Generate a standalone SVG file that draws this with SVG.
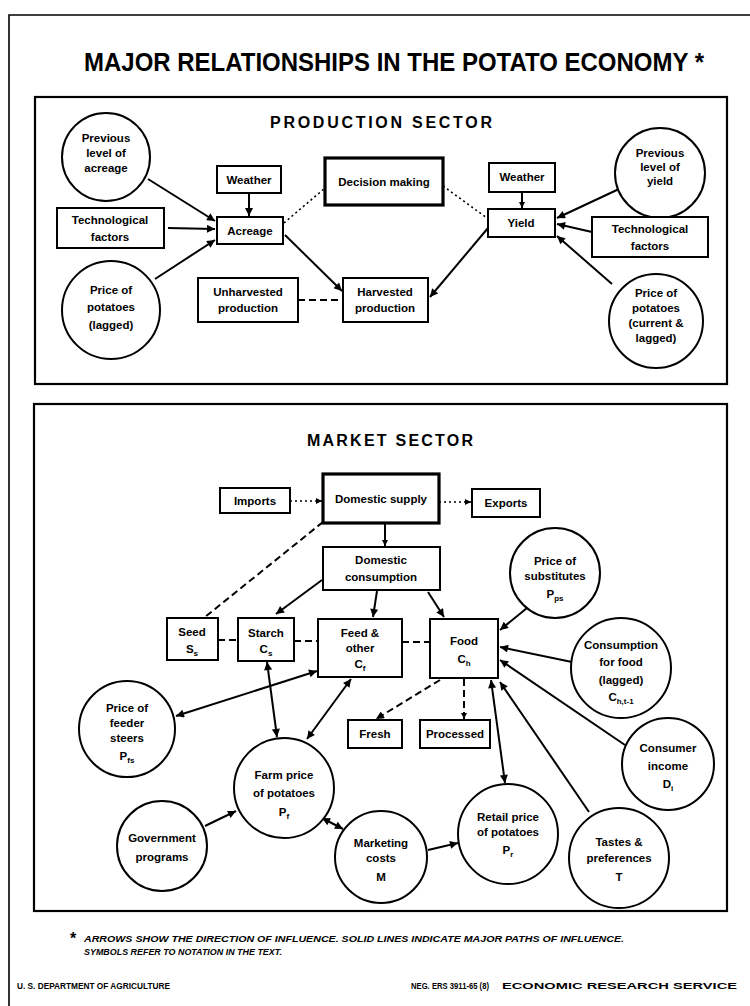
<svg xmlns="http://www.w3.org/2000/svg" width="750" height="1006" viewBox="0 0 750 1006">
<defs>
<style>
.n rect,.n circle{fill:#fff;stroke:#000;stroke-width:2}
.n rect.thick{stroke-width:3.2}
text{font-family:"Liberation Sans",Arial,sans-serif;font-weight:bold;fill:#000}
.n text{font-size:11.5px;text-anchor:middle}
.n tspan.s{font-size:8px}
.c line{stroke:#000;stroke-width:2;fill:none}
.c line.dash{stroke-dasharray:7 4}
.c line.dot{stroke-dasharray:2 3;stroke-width:1.6}
.frame{stroke:#000;stroke-width:1.6;fill:none}
.box{fill:none;stroke:#000;stroke-width:2.2}
.sec{font-size:16px}
.foot{font-size:8.5px;font-style:italic}
.ftr{font-size:9.5px}
</style>
<marker id="a" viewBox="0 0 10 10" refX="10" refY="5" markerWidth="11" markerHeight="8" markerUnits="userSpaceOnUse" orient="auto-start-reverse"><path d="M0,0 L10,5 L0,10 z" fill="#000"/></marker>
<marker id="sm" viewBox="0 0 10 10" refX="10" refY="5" markerWidth="8" markerHeight="6" markerUnits="userSpaceOnUse" orient="auto-start-reverse"><path d="M0,0 L10,5 L0,10 z" fill="#000"/></marker>
</defs>
<rect width="750" height="1006" fill="#fff"/>
<path class="frame" d="M9,1006 V15 H750"/>
<text x="84" y="71" font-size="25" textLength="620" lengthAdjust="spacingAndGlyphs" font-family="Liberation Sans Narrow,DejaVu Sans Condensed,sans-serif">MAJOR RELATIONSHIPS IN THE POTATO ECONOMY *</text>

<rect class="box" x="35" y="97" width="692" height="287"/>
<text class="sec" x="270" y="128" textLength="222" lengthAdjust="spacing">PRODUCTION SECTOR</text>
<rect class="box" x="34" y="404" width="693" height="507"/>
<text class="sec" x="307" y="446" textLength="166" lengthAdjust="spacing">MARKET SECTOR</text>

<g class="c">
<line x1="148" y1="179" x2="215" y2="221" marker-end="url(#a)"/>
<line x1="168" y1="228" x2="215" y2="229" marker-end="url(#a)"/>
<line x1="155" y1="279" x2="215" y2="240" marker-end="url(#a)"/>
<line x1="249" y1="193" x2="249" y2="216" marker-end="url(#a)"/>
<line x1="285" y1="235" x2="342" y2="291" marker-end="url(#a)"/>
<line class="dash" x1="298" y1="300" x2="343" y2="300"/>
<line class="dot" x1="284" y1="223" x2="325" y2="188"/>
<line class="dot" x1="443" y1="186" x2="487" y2="218"/>
<line x1="488" y1="228" x2="430" y2="297" marker-end="url(#a)"/>
<line x1="522" y1="192" x2="522" y2="208" marker-end="url(#sm)"/>
<line x1="619" y1="189" x2="557" y2="218" marker-end="url(#a)"/>
<line x1="592" y1="232" x2="557" y2="224" marker-end="url(#a)"/>
<line x1="612" y1="284" x2="557" y2="236" marker-end="url(#a)"/>

<line class="dot" x1="290" y1="501" x2="322" y2="501" marker-end="url(#sm)"/>
<line class="dot" x1="439" y1="502" x2="471" y2="502" marker-end="url(#sm)"/>
<line x1="385" y1="523" x2="385" y2="546" marker-end="url(#sm)"/>
<line class="dash" x1="323" y1="522" x2="205" y2="617"/>
<line x1="322" y1="580" x2="276" y2="614" marker-end="url(#a)"/>
<line x1="377" y1="591" x2="373" y2="617" marker-end="url(#a)"/>
<line x1="428" y1="592" x2="444" y2="617" marker-end="url(#a)"/>
<line class="dash" x1="218" y1="640" x2="238" y2="640"/>
<line class="dash" x1="294" y1="641" x2="318" y2="641"/>
<line class="dash" x1="402" y1="642" x2="430" y2="642" stroke-width="3"/>
<line x1="527" y1="608" x2="500" y2="630" marker-end="url(#a)"/>
<line x1="572" y1="662" x2="500" y2="647" marker-end="url(#a)"/>
<line x1="625" y1="745" x2="500" y2="660" marker-end="url(#a)"/>
<line x1="589" y1="812" x2="500" y2="682" marker-end="url(#a)"/>
<line x1="491" y1="680" x2="505" y2="783" marker-start="url(#a)" marker-end="url(#a)"/>
<line class="dash" x1="440" y1="680" x2="376" y2="719" marker-end="url(#a)"/>
<line class="dash" x1="464" y1="679" x2="464" y2="719" marker-end="url(#sm)"/>
<line x1="176" y1="716" x2="317" y2="671" marker-start="url(#a)" marker-end="url(#a)"/>
<line x1="267" y1="662" x2="277" y2="737" marker-start="url(#a)" marker-end="url(#a)"/>
<line x1="351" y1="679" x2="307" y2="739" marker-start="url(#a)" marker-end="url(#a)"/>
<line x1="205" y1="826" x2="236" y2="811" marker-end="url(#a)"/>
<line x1="322" y1="818" x2="343" y2="829" marker-start="url(#a)" marker-end="url(#a)"/>
<line x1="428" y1="850" x2="458" y2="843" marker-end="url(#a)"/>
</g>

<g class="n" id="prev-acreage"><circle cx="106" cy="157" r="44"/><text x="106" y="142">Previous</text><text x="106" y="157">level of</text><text x="106" y="172">acreage</text></g>
<g class="n" id="tech-1"><rect x="57" y="208" width="107" height="40"/><text x="110" y="224">Technological</text><text x="110" y="241">factors</text></g>
<g class="n" id="price-lagged"><circle cx="111" cy="310" r="49"/><text x="111" y="294">Price of</text><text x="111" y="311">potatoes</text><text x="111" y="329">(lagged)</text></g>
<g class="n" id="weather-1"><rect x="217" y="166" width="64" height="27"/><text x="249" y="184">Weather</text></g>
<g class="n" id="acreage"><rect x="217" y="217" width="66" height="27"/><text x="250" y="235">Acreage</text></g>
<g class="n" id="decision"><rect class="thick" x="325" y="158" width="118" height="47"/><text x="384" y="186">Decision making</text></g>
<g class="n" id="unharvested"><rect x="198" y="278" width="100" height="44"/><text x="248" y="296">Unharvested</text><text x="248" y="312">production</text></g>
<g class="n" id="harvested"><rect x="343" y="278" width="85" height="44"/><text x="385" y="296">Harvested</text><text x="385" y="312">production</text></g>
<g class="n" id="weather-2"><rect x="489" y="163" width="66" height="29"/><text x="522" y="181">Weather</text></g>
<g class="n" id="yield"><rect x="488" y="209" width="67" height="28"/><text x="521" y="227">Yield</text></g>
<g class="n" id="prev-yield"><circle cx="660" cy="173" r="45"/><text x="660" y="157">Previous</text><text x="660" y="171">level of</text><text x="660" y="185">yield</text></g>
<g class="n" id="tech-2"><rect x="592" y="217" width="116" height="40"/><text x="650" y="233">Technological</text><text x="650" y="250">factors</text></g>
<g class="n" id="price-current"><circle cx="656" cy="321" r="47"/><text x="656" y="297">Price of</text><text x="656" y="312">potatoes</text><text x="656" y="327">(current &amp;</text><text x="656" y="342">lagged)</text></g>

<g class="n" id="imports"><rect x="220" y="488" width="70" height="25"/><text x="255" y="505">Imports</text></g>
<g class="n" id="dom-supply"><rect class="thick" x="323" y="474" width="116" height="49"/><text x="381" y="503">Domestic supply</text></g>
<g class="n" id="exports"><rect x="472" y="489" width="68" height="28"/><text x="506" y="507">Exports</text></g>
<g class="n" id="dom-consumption"><rect x="323" y="547" width="117" height="43"/><text x="381" y="564">Domestic</text><text x="381" y="581">consumption</text></g>
<g class="n" id="substitutes"><circle cx="555" cy="573" r="45"/><text x="555" y="565">Price of</text><text x="555" y="580">substitutes</text><text x="555" y="598">P<tspan class="s" dy="3">ps</tspan></text></g>
<g class="n" id="seed"><rect x="167" y="618" width="51" height="42"/><text x="192" y="636">Seed</text><text x="192" y="653">S<tspan class="s" dy="3">s</tspan></text></g>
<g class="n" id="starch"><rect x="238" y="618" width="56" height="43"/><text x="266" y="637">Starch</text><text x="266" y="653">C<tspan class="s" dy="3">s</tspan></text></g>
<g class="n" id="feed"><rect x="318" y="619" width="84" height="58"/><text x="360" y="637">Feed &amp;</text><text x="360" y="652">other</text><text x="360" y="668">C<tspan class="s" dy="3">f</tspan></text></g>
<g class="n" id="food"><rect x="430" y="619" width="68" height="59"/><text x="464" y="645">Food</text><text x="464" y="663">C<tspan class="s" dy="3">h</tspan></text></g>
<g class="n" id="cons-lagged"><circle cx="621" cy="668" r="50"/><text x="621" y="649">Consumption</text><text x="621" y="666">for food</text><text x="621" y="684">(lagged)</text><text x="621" y="701">C<tspan class="s" dy="3">h,t-1</tspan></text></g>
<g class="n" id="feeder"><circle cx="127" cy="729" r="48"/><text x="127" y="712">Price of</text><text x="127" y="727">feeder</text><text x="127" y="742">steers</text><text x="127" y="760">P<tspan class="s" dy="3">fs</tspan></text></g>
<g class="n" id="fresh"><rect x="348" y="720" width="54" height="28"/><text x="375" y="738">Fresh</text></g>
<g class="n" id="processed"><rect x="420" y="720" width="70" height="28"/><text x="455" y="738">Processed</text></g>
<g class="n" id="income"><circle cx="668" cy="764" r="46"/><text x="668" y="752">Consumer</text><text x="668" y="770">income</text><text x="668" y="788">D<tspan class="s" dy="3">i</tspan></text></g>
<g class="n" id="farm-price"><circle cx="284" cy="788" r="50"/><text x="284" y="779">Farm price</text><text x="284" y="797">of potatoes</text><text x="284" y="816">P<tspan class="s" dy="3">f</tspan></text></g>
<g class="n" id="government"><circle cx="162" cy="846" r="45"/><text x="162" y="842">Government</text><text x="162" y="861">programs</text></g>
<g class="n" id="marketing"><circle cx="381" cy="857" r="46"/><text x="381" y="847">Marketing</text><text x="381" y="862">costs</text><text x="381" y="881">M</text></g>
<g class="n" id="retail"><circle cx="508" cy="834" r="50"/><text x="508" y="821">Retail price</text><text x="508" y="836">of potatoes</text><text x="508" y="854">P<tspan class="s" dy="3">r</tspan></text></g>
<g class="n" id="tastes"><circle cx="619" cy="858" r="50"/><text x="619" y="846">Tastes &amp;</text><text x="619" y="862">preferences</text><text x="619" y="881">T</text></g>

<text x="70" y="944" font-size="16">*</text>
<text class="foot" x="84" y="942" textLength="540" lengthAdjust="spacingAndGlyphs">ARROWS SHOW THE DIRECTION OF INFLUENCE.  SOLID LINES INDICATE MAJOR PATHS OF INFLUENCE.</text>
<text class="foot" x="84" y="955" textLength="198" lengthAdjust="spacingAndGlyphs">SYMBOLS REFER TO NOTATION IN THE TEXT.</text>
<text class="ftr" x="17" y="989" textLength="153" lengthAdjust="spacingAndGlyphs">U. S. DEPARTMENT OF AGRICULTURE</text>
<text class="ftr" x="411" y="989" textLength="78" lengthAdjust="spacingAndGlyphs">NEG. ERS 3911-65 (8)</text>
<text class="ftr" x="502" y="989" textLength="235" lengthAdjust="spacingAndGlyphs">ECONOMIC RESEARCH SERVICE</text>
</svg>
